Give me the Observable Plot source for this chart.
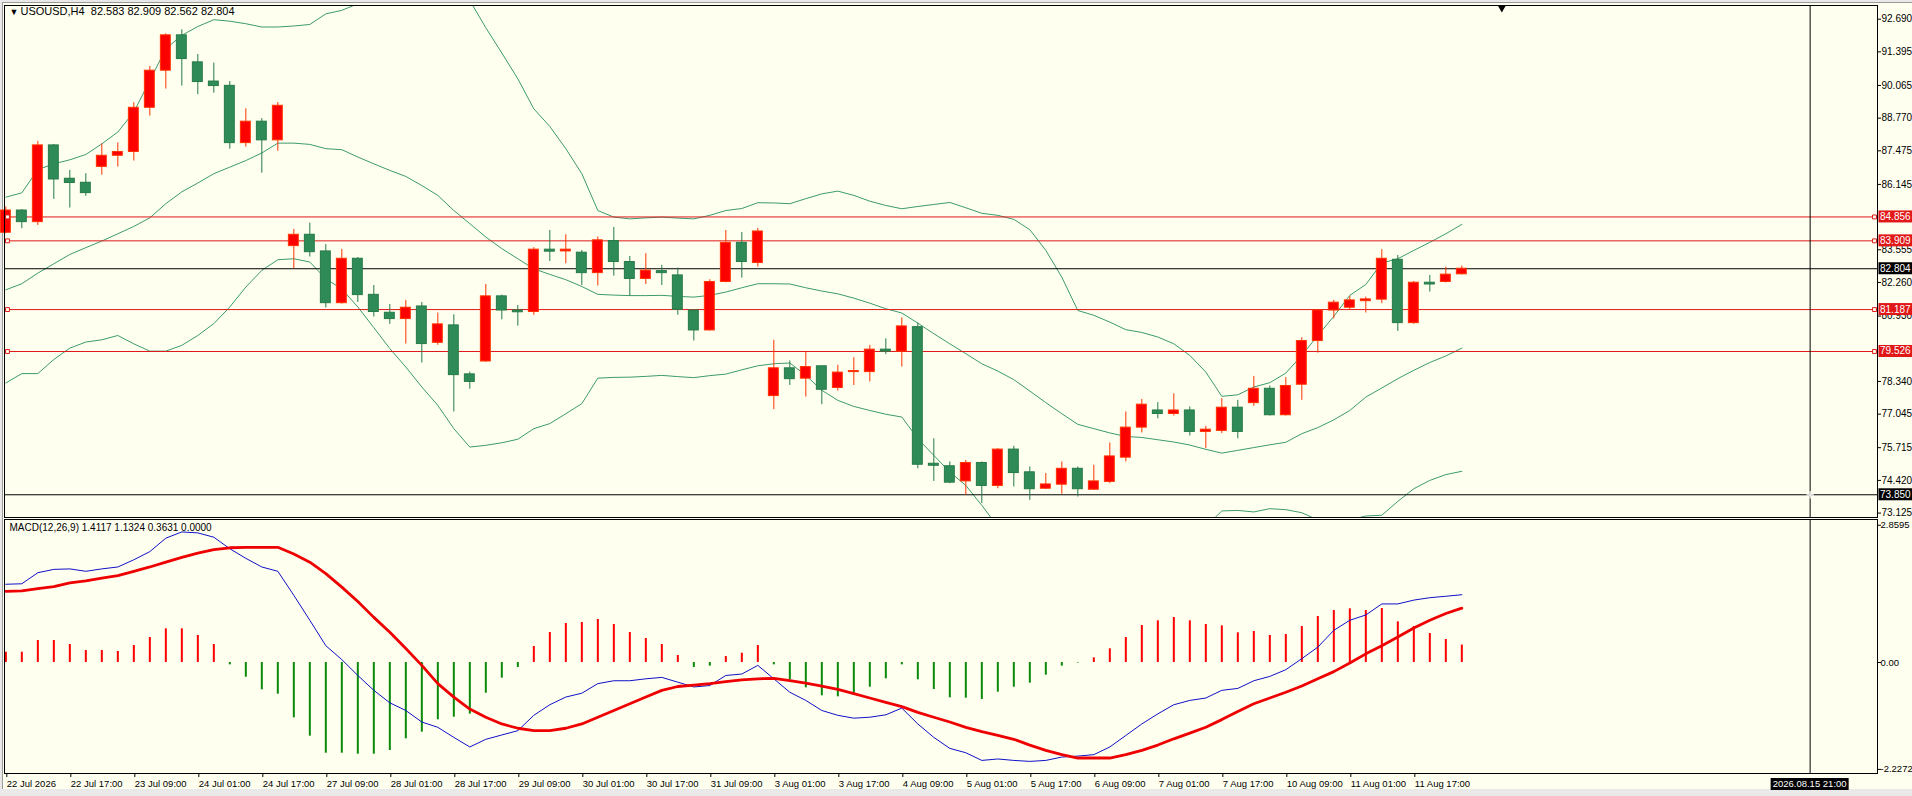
<!DOCTYPE html>
<html><head><meta charset="utf-8">
<script src="https://cdn.jsdelivr.net/npm/d3@7"></script>
<script src="https://cdn.jsdelivr.net/npm/@observablehq/plot@0.6"></script>
<style>
html,body{margin:0;padding:0;background:#e9e9e9;}
#chart{position:relative;width:1912px;height:796px;background:#e9e9e9;overflow:hidden;font-family:"Liberation Sans",Arial,sans-serif;}
#paper{position:absolute;left:2px;top:2px;width:1910px;height:787px;background:#fffff0;border-top:1px solid #9a9a9a;border-left:1px solid #9a9a9a;box-sizing:border-box;}
#chart svg{position:absolute;left:0;max-width:none !important;}
</style></head>
<body><div id="chart"><div id="paper"></div></div>
<script>
// ---------- data ----------
const symbolName = "USOUSD,H4";
const macdName = "MACD(12,26,9)";
const macdHeader = ["1.4117", "1.1324", "0.3631", "0.0000"];

const opens = [84.23,85.11,84.65,87.69,86.37,86.21,86.84,87.28,87.43,89.18,
90.65,92.05,90.98,90.22,90.05,87.78,88.63,87.89,83.70,84.15,
83.49,81.44,83.20,81.77,81.06,80.81,81.31,79.87,80.56,78.62,
79.13,81.71,81.15,81.09,83.56,83.49,83.44,82.63,83.90,83.07,
82.40,82.71,82.54,81.15,80.36,82.28,83.83,83.03,77.76,78.86,
78.45,78.94,78.08,78.71,78.71,79.60,79.52,80.49,75.08,74.98,
74.38,75.11,74.20,75.64,74.74,74.09,74.25,74.88,74.05,74.36,
75.32,76.51,77.19,77.05,77.19,76.34,76.38,77.30,77.48,78.05,
77.00,78.21,79.94,81.15,81.26,81.52,81.58,83.16,80.65,82.25,
82.28,82.583];
const highs = [85.25,85.15,87.85,87.73,86.70,86.57,87.75,87.79,89.38,90.82,
92.11,92.27,91.29,90.95,90.22,89.14,88.75,89.39,84.36,84.61,
83.76,83.57,83.25,82.14,81.39,81.55,81.47,81.05,80.98,78.71,
82.18,81.76,81.35,83.64,84.32,84.15,83.53,84.06,84.44,83.29,
83.40,82.94,82.83,81.16,82.37,84.32,84.24,84.40,79.97,79.15,
79.50,78.95,78.98,79.28,79.77,80.03,80.86,80.65,76.07,75.15,
75.21,75.15,75.68,75.77,74.95,74.69,75.15,74.95,75.02,75.90,
77.13,77.63,77.50,77.85,77.33,76.56,77.66,77.59,78.54,78.16,
78.49,80.07,81.18,81.55,81.71,81.68,83.56,83.33,82.30,82.54,
82.87,82.909];
const lows = [84.19,84.39,84.52,85.55,85.21,85.67,86.51,86.83,87.07,88.85,
89.92,90.04,89.70,89.76,87.54,87.62,86.59,87.46,82.80,83.27,
81.25,81.40,81.47,80.89,80.60,79.82,79.07,79.77,77.13,78.03,
79.10,80.78,80.53,80.96,83.09,83.00,82.14,82.12,82.51,81.71,
82.18,82.14,80.96,79.94,80.34,82.25,82.43,82.87,77.22,78.18,
77.72,77.42,77.96,78.18,78.32,79.40,78.91,74.88,74.38,74.29,
73.84,73.50,74.09,74.16,73.63,74.06,73.87,73.76,74.03,74.29,
75.15,76.30,76.86,76.97,76.18,75.68,76.27,76.07,77.35,76.97,
76.97,77.59,79.46,80.82,81.15,81.05,81.42,80.32,80.60,81.88,
82.24,82.562];
const closes = [85.11,84.65,87.69,86.34,86.20,85.80,87.28,87.43,89.18,90.65,
92.05,91.11,90.20,90.04,87.78,88.63,87.89,89.26,84.15,83.46,
81.44,83.20,81.76,81.09,80.81,81.26,79.82,80.60,78.59,78.32,
81.71,81.15,81.08,83.56,83.48,83.56,82.63,83.93,83.07,82.40,
82.73,82.63,81.18,80.36,82.28,83.83,83.07,84.28,78.86,78.43,
78.91,78.01,78.69,78.75,79.60,79.52,80.52,75.04,75.00,74.33,
75.11,74.20,75.64,74.71,74.07,74.26,74.88,74.07,74.38,75.37,
76.51,77.42,77.05,77.19,76.34,76.43,77.30,76.34,78.05,77.00,
78.16,79.94,81.15,81.46,81.55,81.59,83.20,80.65,82.25,82.18,
82.57,82.804];

const bbUpper = [85.64,85.81,86.73,86.96,87.12,87.33,87.75,88.22,89.01,90.26,
91.52,92.05,92.40,92.67,92.61,92.51,92.38,92.38,92.42,92.48,
92.90,93.04,93.30,93.46,93.76,94.01,94.09,94.03,93.76,93.43,
92.35,91.35,90.33,89.14,88.44,87.56,86.57,85.11,84.85,84.78,
84.82,84.85,84.81,84.78,84.92,85.11,85.19,85.42,85.41,85.38,
85.58,85.77,85.88,85.71,85.48,85.31,85.18,85.27,85.35,85.43,
85.22,85.00,84.92,84.76,84.35,83.53,82.47,81.15,80.96,80.69,
80.39,80.28,80.10,79.83,79.37,78.71,77.75,77.81,78.12,78.29,
78.67,79.37,80.16,80.92,81.75,82.18,83.03,83.20,83.53,83.85,
84.19,84.56];
const bbMiddle = [81.97,82.21,82.63,83.00,83.37,83.64,83.90,84.19,84.48,84.82,
85.38,85.85,86.20,86.57,86.83,87.09,87.39,87.78,87.78,87.73,
87.56,87.52,87.23,86.96,86.70,86.46,86.10,85.71,85.11,84.59,
84.06,83.60,83.20,82.80,82.58,82.37,82.10,81.79,81.76,81.74,
81.74,81.75,81.71,81.68,81.75,81.88,82.05,82.21,82.21,82.20,
82.05,81.92,81.81,81.64,81.44,81.22,81.05,80.65,80.23,79.83,
79.44,79.04,78.75,78.41,77.96,77.50,77.06,76.64,76.47,76.30,
76.16,76.12,76.03,75.94,75.82,75.65,75.50,75.61,75.72,75.83,
75.93,76.27,76.51,76.82,77.19,77.72,78.08,78.45,78.78,79.09,
79.35,79.66];
const bbLower = [78.28,78.65,78.65,79.21,79.66,79.90,79.99,80.16,79.83,79.54,
79.54,79.77,80.16,80.63,81.29,82.08,82.74,83.16,83.20,83.07,
82.41,82.00,81.29,80.47,79.64,78.91,78.12,77.39,76.47,75.74,
75.81,75.91,76.05,76.47,76.67,77.06,77.46,78.47,78.50,78.51,
78.54,78.58,78.53,78.49,78.57,78.63,78.80,78.96,79.04,79.07,
78.58,77.99,77.59,77.35,77.19,77.04,76.93,76.07,75.41,74.75,
74.22,73.43,72.59,72.06,71.57,71.46,71.65,72.12,71.98,71.90,
71.94,71.97,71.97,72.04,72.27,72.59,73.21,73.23,73.17,73.30,
73.26,73.14,72.85,72.73,72.85,73.01,73.04,73.59,74.09,74.42,
74.65,74.78];

const macdMain = [1.63,1.64,1.87,1.94,1.95,1.90,1.95,1.99,2.14,2.31,
2.59,2.72,2.70,2.61,2.37,2.17,1.99,1.90,1.40,0.88,
0.35,0.06,-0.27,-0.58,-0.84,-1.00,-1.24,-1.35,-1.56,-1.76,
-1.60,-1.51,-1.42,-1.10,-0.88,-0.72,-0.64,-0.44,-0.38,-0.38,
-0.34,-0.31,-0.41,-0.51,-0.48,-0.27,-0.24,-0.06,-0.34,-0.62,
-0.79,-1.00,-1.10,-1.16,-1.14,-1.09,-0.95,-1.28,-1.56,-1.79,
-1.88,-2.04,-2.01,-2.04,-2.06,-2.04,-1.97,-1.95,-1.92,-1.76,
-1.52,-1.28,-1.07,-0.88,-0.79,-0.74,-0.58,-0.54,-0.38,-0.29,
-0.15,0.08,0.32,0.67,0.88,0.99,1.22,1.22,1.30,1.35,
1.38,1.4117];
const macdSignal = [1.48,1.49,1.54,1.58,1.66,1.70,1.76,1.81,1.90,1.99,
2.09,2.19,2.28,2.35,2.39,2.40,2.40,2.40,2.26,2.09,
1.85,1.57,1.27,0.94,0.63,0.29,-0.06,-0.44,-0.72,-0.97,
-1.14,-1.28,-1.37,-1.42,-1.42,-1.37,-1.28,-1.14,-1.00,-0.86,
-0.72,-0.58,-0.50,-0.47,-0.44,-0.40,-0.36,-0.34,-0.33,-0.38,
-0.43,-0.49,-0.56,-0.65,-0.74,-0.83,-0.92,-1.04,-1.14,-1.24,
-1.35,-1.44,-1.52,-1.60,-1.72,-1.83,-1.92,-1.99,-1.99,-1.99,
-1.92,-1.83,-1.72,-1.59,-1.47,-1.35,-1.19,-1.02,-0.86,-0.74,
-0.62,-0.49,-0.34,-0.19,-0.01,0.18,0.35,0.53,0.72,0.88,
1.02,1.1324];
const macdHist = [0.215,0.215,0.458,0.458,0.375,0.25,0.25,0.229,0.354,0.521,
0.701,0.701,0.563,0.375,-0.049,-0.306,-0.569,-0.66,-1.153,-1.535,
-1.889,-1.889,-1.91,-1.91,-1.833,-1.59,-1.451,-1.194,-1.139,-1.076,
-0.639,-0.326,-0.104,0.333,0.625,0.813,0.833,0.896,0.792,0.625,
0.5,0.375,0.146,-0.104,-0.076,0.125,0.194,0.354,-0.049,-0.361,
-0.528,-0.694,-0.715,-0.688,-0.514,-0.34,-0.049,-0.361,-0.563,-0.736,
-0.743,-0.771,-0.618,-0.514,-0.431,-0.264,-0.076,-0.01,0.097,0.285,
0.521,0.771,0.868,0.938,0.868,0.792,0.764,0.618,0.646,0.563,
0.583,0.75,0.958,1.083,1.118,1.083,1.125,0.847,0.75,0.604,
0.479,0.3631];

const timeTickBars = [0,4,8,12,16,20,24,28,32,36,40,44,48,52,56,60,64,68,72,76,80,84,88];
const timeTickLabels = ["22 Jul 2026","22 Jul 17:00","23 Jul 09:00","24 Jul 01:00","24 Jul 17:00",
"27 Jul 09:00","28 Jul 01:00","28 Jul 17:00","29 Jul 09:00","30 Jul 01:00","30 Jul 17:00",
"31 Jul 09:00","3 Aug 01:00","3 Aug 17:00","4 Aug 09:00","5 Aug 01:00","5 Aug 17:00",
"6 Aug 09:00","7 Aug 01:00","7 Aug 17:00","10 Aug 09:00","11 Aug 01:00","11 Aug 17:00"];
const priceTicks = [92.690,91.395,90.065,88.770,87.475,86.145,83.555,82.260,80.930,78.340,77.045,75.715,74.420,73.125];
const levelLines = [84.856,83.909,81.187,79.526];
const bidPrice = 82.804;
const crossPrice = 73.850;
const crossBar = 112.77;
const crossLabel = "2026.08.15 21:00";
const shiftBar = 93.5;
const macdTicks = [2.8595, 0, -2.2272];
const macdTickLabels = ["2.8595", "0.00", "-2.2272"];

// ---------- styling ----------
const FONT = "'Liberation Sans', Arial, sans-serif";
const UP_FILL = "#ff0000", UP_LINE = "#ff3300";
const DN_FILL = "#2e8b57", DN_LINE = "#257a48";
const BAND = "#3c9a6e";
const LEVEL = "#e01818";
const xDom = [-0.083, 116.98];

const candles = opens.map((o, i) => ({i, o, h: highs[i], l: lows[i], c: closes[i], up: closes[i] >= o}));
const idx = (arr) => arr.map((v, i) => ({i, v}));

const chart = document.getElementById("chart");

// ---------- price panel ----------
const pricePlot = Plot.plot({
  width: 1912, height: 520,
  marginLeft: 4, marginRight: 35, marginTop: 5, marginBottom: 3,
  x: {domain: xDom, axis: null},
  y: {domain: [72.95, 93.232], axis: null},
  style: {background: "transparent", fontFamily: FONT, fontSize: "10px", color: "black", overflow: "visible"},
  marks: [
    Plot.lineY(idx(bbUpper), {x: "i", y: "v", stroke: BAND, strokeWidth: 1, clip: true}),
    Plot.lineY(idx(bbMiddle), {x: "i", y: "v", stroke: BAND, strokeWidth: 1, clip: true}),
    Plot.lineY(idx(bbLower), {x: "i", y: "v", stroke: BAND, strokeWidth: 1, clip: true}),
    Plot.ruleY(levelLines, {stroke: LEVEL, strokeWidth: 1}),
    Plot.ruleY([bidPrice], {stroke: "black", strokeWidth: 1}),
    Plot.ruleY([crossPrice], {stroke: "black", strokeWidth: 1}),
    Plot.ruleX([crossBar], {stroke: "black", strokeWidth: 1}),
    Plot.ruleX(candles, {x: "i", y1: "l", y2: "h", stroke: d => d.up ? UP_LINE : DN_LINE, strokeWidth: 1}),
    Plot.rect(candles, {x1: d => d.i - 0.31, x2: d => d.i + 0.31, y1: "o", y2: "c",
      fill: d => d.up ? UP_FILL : DN_FILL, stroke: d => d.up ? UP_LINE : DN_LINE, strokeWidth: 1}),
    Plot.dot(levelLines, {y: d => d, frameAnchor: "left", dx: 3, symbol: "square", r: 2.2, stroke: LEVEL, fill: "#fffff0", strokeWidth: 1}),
    Plot.dot(levelLines, {y: d => d, frameAnchor: "right", dx: -3, symbol: "square", r: 2.2, stroke: LEVEL, fill: "#fffff0", strokeWidth: 1}),
    Plot.dot([crossPrice], {x: crossBar, y: d => d, symbol: "plus", r: 2.5, stroke: "white", strokeWidth: 1.2}),
    Plot.dot([shiftBar], {x: d => d, frameAnchor: "top", dy: 2, symbol: "triangle", rotate: 180, r: 3.2, fill: "black", stroke: "none"}),
    Plot.axisY(priceTicks, {anchor: "right", tickSize: 3, tickPadding: 1, fontSize: 10, tickFormat: d => d.toFixed(3), label: null}),
    Plot.text(["\u25BC"], {frameAnchor: "top-left", dx: 5, dy: 3, fontSize: 9, textAnchor: "start", lineAnchor: "top", fill: "black"}),
    Plot.text([`${symbolName}\u00A0\u00A0${opens[91].toFixed(3)} ${highs[91].toFixed(3)} ${lows[91].toFixed(3)} ${closes[91].toFixed(3)}`],
      {frameAnchor: "top-left", dx: 16, dy: 2, fontSize: 11, textAnchor: "start", lineAnchor: "top", fill: "black"}),
    Plot.frame({stroke: "black", strokeWidth: 1})
  ]
});
pricePlot.style.top = "0px";
chart.appendChild(pricePlot);

// value boxes on price axis
(function () {
  const ys = pricePlot.scale("y"), xs = pricePlot.scale("x");
  const x0 = xs.range[1] + 1.5;
  const g = d3.select(pricePlot).append("g").attr("font-family", FONT).attr("font-size", 10).attr("text-anchor", "start");
  const items = levelLines.map(v => ({v, bg: LEVEL}))
    .concat([{v: bidPrice, bg: "black"}, {v: crossPrice, bg: "black"}]);
  for (const it of items) {
    const y = ys.apply(it.v);
    g.append("rect").attr("x", x0).attr("y", y - 6).attr("width", 36).attr("height", 12).attr("fill", it.bg);
    g.append("text").attr("x", x0 + 1.5).attr("y", y).attr("dy", "0.35em").attr("text-anchor", "start").attr("fill", "white").text(it.v.toFixed(3));
  }
})();

// ---------- MACD panel ----------
const macdPlot = Plot.plot({
  width: 1912, height: 279,
  marginLeft: 4, marginRight: 35, marginTop: 2, marginBottom: 23,
  x: {domain: xDom, axis: null},
  y: {domain: [-2.3125, 2.979], axis: null},
  style: {background: "transparent", fontFamily: FONT, fontSize: "10px", color: "black", overflow: "visible"},
  marks: [
    Plot.ruleX(idx(macdHist), {x: "i", y1: 0, y2: "v", stroke: d => d.v >= 0 ? "#ff0000" : "#0a8a0a", strokeWidth: 2}),
    Plot.lineY(idx(macdMain), {x: "i", y: "v", stroke: "#1010c8", strokeWidth: 1, clip: true}),
    Plot.lineY(idx(macdSignal), {x: "i", y: "v", stroke: "#ee0000", strokeWidth: 2.8, clip: true}),
    Plot.ruleX([crossBar], {stroke: "black", strokeWidth: 1}),
    Plot.axisY(macdTicks, {anchor: "right", tickSize: 3, tickPadding: 0, fontSize: 9.5,
      tickFormat: d => macdTickLabels[macdTicks.indexOf(d)], label: null}),
    Plot.axisX(timeTickBars, {anchor: "bottom", tickSize: 4, tickPadding: 3, fontSize: 9.5, textAnchor: "start", dx: 1,
      tickFormat: d => timeTickLabels[timeTickBars.indexOf(d)], label: null}),
    Plot.text([`${macdName} ${macdHeader.join(" ")}`],
      {frameAnchor: "top-left", dx: 5, dy: 4, fontSize: 10, textAnchor: "start", lineAnchor: "top", fill: "black"}),
    Plot.frame({stroke: "black", strokeWidth: 1})
  ]
});
macdPlot.style.top = "517px";
chart.appendChild(macdPlot);

(function () {
  const xs = macdPlot.scale("x");
  const cx = xs.apply(crossBar);
  const yb = macdPlot.getAttribute("height") - 23;
  const g = d3.select(macdPlot).append("g").attr("font-family", FONT).attr("font-size", 9.5);
  g.append("rect").attr("x", cx - 39).attr("y", yb + 5).attr("width", 78).attr("height", 12).attr("fill", "black");
  g.append("text").attr("x", cx).attr("y", yb + 11).attr("dy", "0.35em").attr("text-anchor", "middle").attr("fill", "white").text(crossLabel);
})();
</script>
</body></html>
